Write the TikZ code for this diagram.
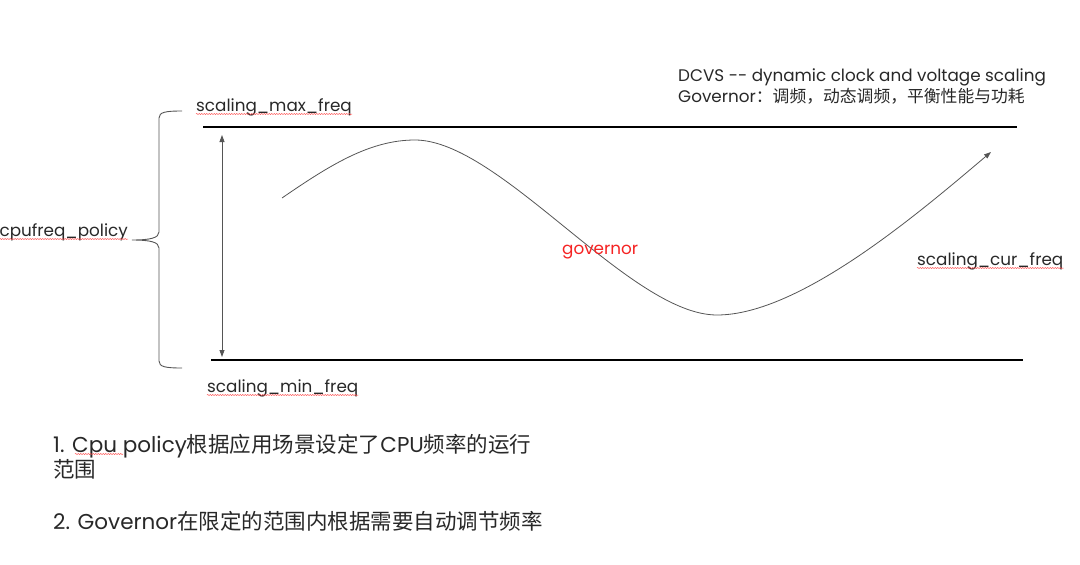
\documentclass[tikz,border=0pt]{standalone}
\usepackage{fontspec}
\setmainfont{Poppins}
\newfontfamily\cjk{Noto Sans CJK SC}
\usetikzlibrary{arrows.meta,decorations.pathmorphing,calc}
\definecolor{txtgray}{RGB}{40,40,40}
\definecolor{curvegray}{RGB}{85,85,85}
\definecolor{govred}{RGB}{245,35,35}
\tikzset{
  label text/.style={anchor=base west,inner sep=0pt,font=\fontsize{16.8}{19}\selectfont,text=txtgray},
  note text/.style={anchor=base west,inner sep=0pt,font=\fontsize{21.5}{24}\selectfont,text=txtgray},
  bound line/.style={line width=2.6pt,black},
  spellmark/.style={draw=red!70,line width=0.5pt,decorate,decoration={snake,amplitude=0.5pt,segment length=2.5pt}},
  tip/.style={-{Triangle[length=7pt,width=5pt]}}
}
\begin{document}
\begin{tikzpicture}[x=1pt,y=1pt,yscale=-1,xscale=1]
\useasboundingbox (0,0) rectangle (1080,565);
%Straight Lines: max and min bounds
\coordinate (maxL) at (203,127);
\coordinate (maxR) at (1017,127);
\coordinate (minL) at (211,360);
\coordinate (minR) at (1023,360);
\draw [bound line] (maxL) -- (maxR);
\draw [bound line] (minL) -- (minR);
%Straight Lines: range arrow
\coordinate (rangetop) at (222,135);
\coordinate (rangebot) at (222,357);
\draw [curvegray,line width=0.8pt,{Triangle[length=7pt,width=5pt]}-{Triangle[length=7pt,width=5pt]}] (rangetop) -- (rangebot);
%Shape: Brace
\draw [curvegray,line width=0.9pt] (182,111) .. controls (166,111) and (159,112) .. (159,118) -- (159,232) .. controls (159,238) and (150,240) .. (132,240) .. controls (150,240) and (159,242) .. (159,248) -- (159,361) .. controls (159,367) and (166,368) .. (182,368);
%Curve: governor path
\coordinate (curvestart) at (282,198);
\coordinate (curveend) at (991,152);
\draw [curvegray,line width=0.8pt,tip] (curvestart) .. controls (330,165) and (370,140) .. (415,140) .. controls (500,140) and (630,315) .. (717,315) .. controls (800,315) and (920,212) .. (curveend);

% Text Node
\node (maxfreq) at (196,111) [label text] {scaling\_max\_freq};
% Text Node
\node (minfreq) at (207,392) [label text] {scaling\_min\_freq};
% Text Node
\node (curfreq) at (917,265) [label text] {scaling\_cur\_freq};
% Text Node
\node (policy) at (128,236) [label text,anchor=base east] {cpufreq\_policy};
% Text Node
\node (gov) at (562,254) [label text,text=govred] {governor};
% Text Node
\node (dcvs) at (678,81) [label text] {DCVS -{}- dynamic clock and voltage scaling};
% Text Node
\node (govnote) at (678,102) [label text] {Governor{\cjk ：调频，动态调频，平衡性能与功耗}};
% Text Node
\node (item1) at (53,452) [note text] {1. Cpu policy{\cjk 根据应用场景设定了}CPU{\cjk 频率的运行}};
% Text Node
\node (item1b) at (53,477) [note text] {\cjk 范围};
% Text Node
\node (item2) at (53,529) [note text] {2. Governor{\cjk 在限定的范围内根据需要自动调节频率}};

%spell check marks
\draw [spellmark] ($(maxfreq.base west)+(0,3)$) -- ($(maxfreq.base east)+(0,3)$);
\draw [spellmark] ($(minfreq.base west)+(0,3)$) -- ($(minfreq.base east)+(0,3)$);
\draw [spellmark] ($(curfreq.base west)+(0,3)$) -- ($(curfreq.base east)+(0,3)$);
\draw [spellmark] ($(policy.base west)+(0,3)$) -- ($(policy.base east)+(0,3)$);
\draw [spellmark] ($(item1.base west)+(22,2)$) -- ($(item1.base west)+(70,2)$);
\end{tikzpicture}
\end{document}
